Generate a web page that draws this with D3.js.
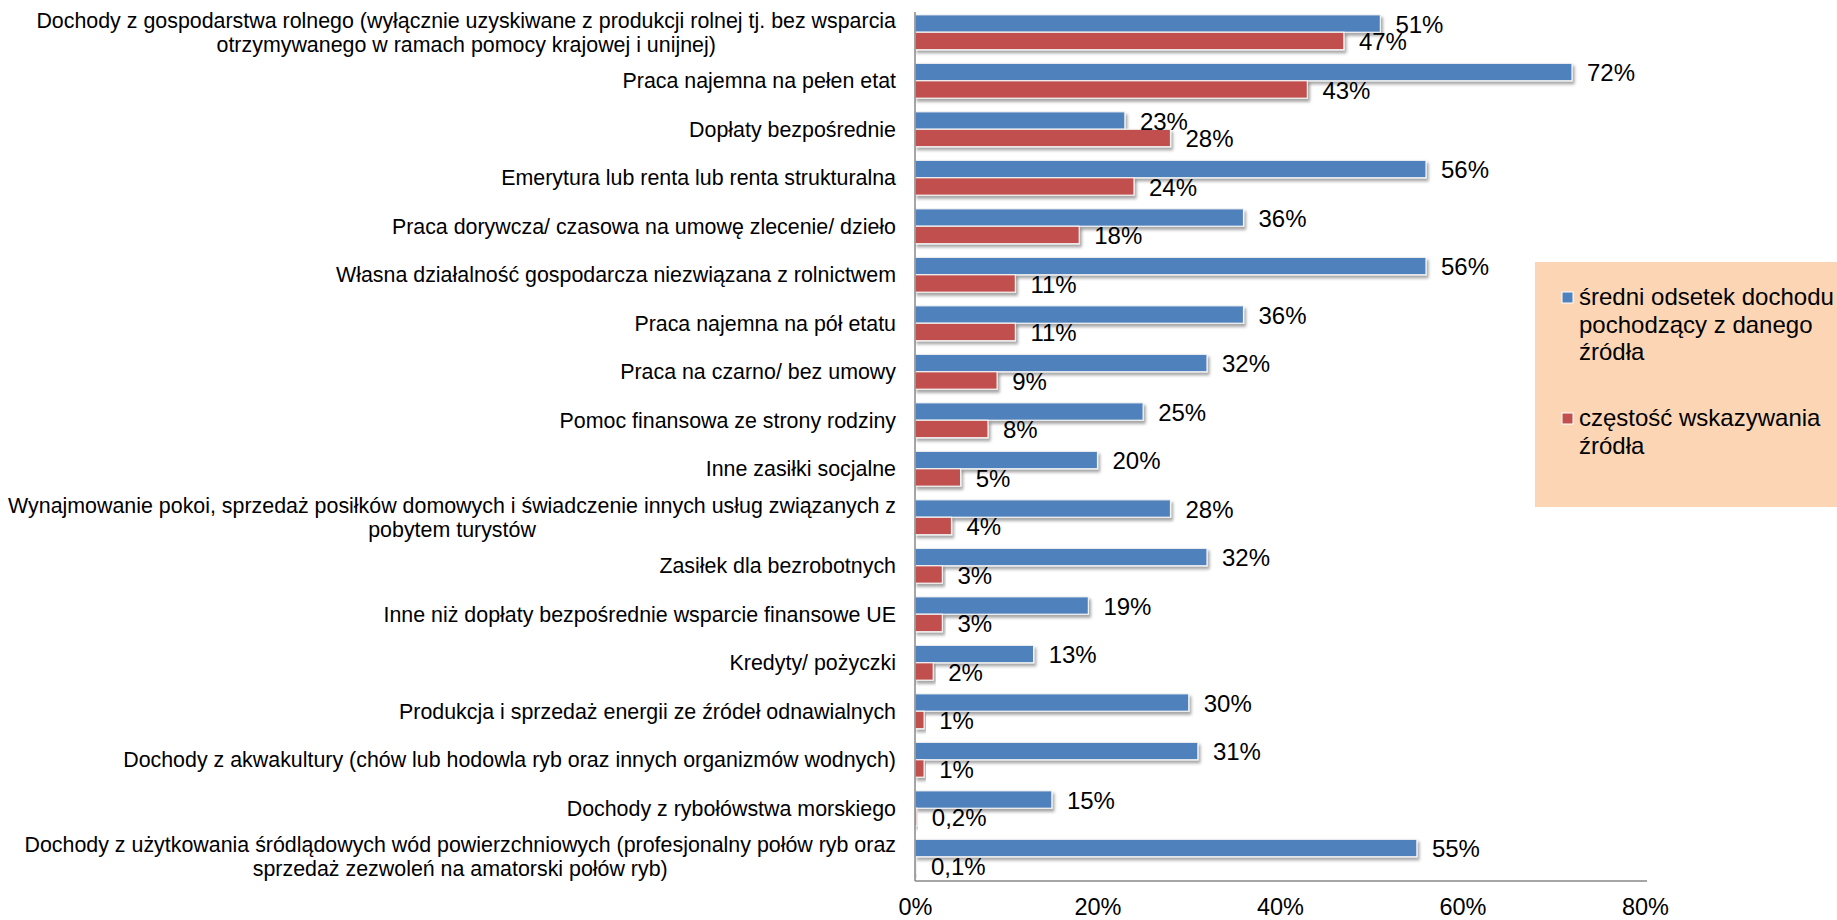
<!DOCTYPE html>
<html>
<head>
<meta charset="utf-8">
<script src="https://cdn.jsdelivr.net/npm/d3@7"></script>
<style>
  body { margin: 0; background: #fff; }
  svg { display: block; font-family: "Liberation Sans", Arial, sans-serif; }
</style>
</head>
<body>
<script>
// categories (top to bottom), "\n" marks a wrapped line
const categories = [
  "Dochody z gospodarstwa rolnego (wyłącznie uzyskiwane z produkcji rolnej tj. bez wsparcia\notrzymywanego w ramach pomocy krajowej i unijnej)",
  "Praca najemna na pełen etat",
  "Dopłaty bezpośrednie",
  "Emerytura lub renta lub renta strukturalna",
  "Praca dorywcza/ czasowa na umowę zlecenie/ dzieło",
  "Własna działalność gospodarcza niezwiązana z rolnictwem",
  "Praca najemna na pół etatu",
  "Praca na czarno/ bez umowy",
  "Pomoc finansowa ze strony rodziny",
  "Inne zasiłki socjalne",
  "Wynajmowanie pokoi, sprzedaż posiłków domowych i świadczenie innych usług związanych z\npobytem turystów",
  "Zasiłek dla bezrobotnych",
  "Inne niż dopłaty bezpośrednie wsparcie finansowe UE",
  "Kredyty/ pożyczki",
  "Produkcja i sprzedaż energii ze źródeł odnawialnych",
  "Dochody z akwakultury (chów lub hodowla ryb oraz innych organizmów wodnych)",
  "Dochody z rybołówstwa morskiego",
  "Dochody z użytkowania śródlądowych wód powierzchniowych (profesjonalny połów ryb oraz\nsprzedaż zezwoleń na amatorski połów ryb)"
];

// średni odsetek dochodu pochodzący z danego źródła (%)
const shareOfIncome = [51, 72, 23, 56, 36, 56, 36, 32, 25, 20, 28, 32, 19, 13, 30, 31, 15, 55];
// częstość wskazywania źródła (%)
const frequency = [47, 43, 28, 24, 18, 11, 11, 9, 8, 5, 4, 3, 3, 2, 1, 1, 0.2, 0.1];

const seriesNames = ["średni odsetek dochodu\npochodzący z danego\nźródła", "częstość wskazywania\nźródła"];
const seriesKeys = ["share", "freq"];
const xTicks = [0, 20, 40, 60, 80];

var data = categories.map(function(c, i) {
    return { cat: c, share: shareOfIncome[i], freq: frequency[i] };
});

var W = 1837, H = 920;

var svg = d3.select("body").append("svg")
    .attr("width", W)
    .attr("height", H);

// soft shadow like the office chart
var defs = svg.append("defs");
var f = defs.append("filter").attr("id", "shadow")
    .attr("x", "-5%").attr("y", "-30%").attr("width", "115%").attr("height", "190%");
f.append("feDropShadow")
    .attr("dx", 2).attr("dy", 3)
    .attr("stdDeviation", 1.8)
    .attr("flood-color", "#000")
    .attr("flood-opacity", 0.35);

var color = d3.scaleOrdinal()
    .domain(seriesKeys)
    .range(["#4F81BD", "#C0504D"]);

var x = d3.scaleLinear()
    .domain([0, 80])
    .range([915, 1645]);

var y0 = d3.scaleBand()
    .domain(d3.range(categories.length))
    .range([8, 881])
    .paddingInner(0.28)
    .paddingOuter(0.14);

var y1 = d3.scaleBand()
    .domain(seriesKeys)
    .range([0, y0.bandwidth()]);

// legend box
var legend = svg.append("g").attr("transform", "translate(1535,262)");
legend.append("rect")
    .attr("width", 302)
    .attr("height", 245)
    .attr("fill", "#FCD5B5");

var legItems = legend.selectAll(".leg")
    .data(seriesKeys)
    .enter().append("g")
    .attr("class", "leg")
    .attr("transform", function(d, i) { return "translate(27," + (i === 0 ? 30 : 151) + ")"; });

legItems.append("rect")
    .attr("width", 11)
    .attr("height", 11)
    .attr("fill", color)
    .attr("stroke", "#fff")
    .attr("stroke-width", 1);

legItems.append("text")
    .attr("x", 17)
    .attr("y", 13)
    .style("font-size", "24px")
    .attr("fill", "#000")
    .selectAll("tspan")
    .data(function(d, i) { return seriesNames[i].split("\n"); })
    .enter().append("tspan")
    .attr("x", 17)
    .attr("dy", function(d, i) { return i === 0 ? 0 : 27.5; })
    .text(function(d) { return d; });

// bars
var groups = svg.selectAll(".cat")
    .data(data)
    .enter().append("g")
    .attr("class", "cat")
    .attr("transform", function(d, i) { return "translate(0," + y0(i) + ")"; });

groups.selectAll("rect")
    .data(function(d) { return seriesKeys.map(function(k) { return { key: k, value: d[k] }; }); })
    .enter().append("rect")
    .attr("x", x(0))
    .attr("y", function(d) { return y1(d.key); })
    .attr("width", function(d) { return x(d.value) - x(0); })
    .attr("height", y1.bandwidth())
    .attr("fill", function(d) { return color(d.key); })
    .attr("stroke", "#f4f4f4")
    .attr("stroke-width", 1.2)
    .attr("filter", "url(#shadow)");

groups.selectAll(".val")
    .data(function(d) { return seriesKeys.map(function(k) { return { key: k, value: d[k] }; }); })
    .enter().append("text")
    .attr("class", "val")
    .attr("x", function(d) { return x(d.value) + 15; })
    .attr("y", function(d) { return y1(d.key) + y1.bandwidth() / 2; })
    .attr("dy", "0.38em")
    .style("font-size", "24px")
    .attr("fill", "#000")
    .text(function(d) {
        return d.value < 1 ? String(d.value).replace(".", ",") + "%" : d.value + "%";
    });

// y axis line
svg.append("g")
    .attr("transform", "translate(" + x(0) + ",0)")
    .call(d3.axisLeft(y0).tickSize(0).tickFormat(""))
    .select(".domain")
    .attr("d", "M0,12V881")
    .attr("stroke", "#898989")
    .attr("stroke-width", 1.5);

// category labels, wrapped lines centred inside a right aligned block
var labelEnd = 896;
svg.selectAll(".catlab")
    .data(data)
    .enter().append("text")
    .attr("class", "catlab")
    .style("font-size", "21.4px")
    .attr("fill", "#000")
    .each(function(d, i) {
        var lines = d.cat.split("\n");
        var cy = y0(i) + y0.bandwidth() / 2;
        var t = d3.select(this);
        var spans = t.selectAll("tspan")
            .data(lines)
            .enter().append("tspan")
            .attr("y", function(l, j) { return cy + (j - (lines.length - 1) / 2) * 24; })
            .attr("dy", "0.36em")
            .text(function(l) { return l; });
        if (lines.length === 1) {
            spans.attr("x", labelEnd).attr("text-anchor", "end");
        } else {
            var maxW = d3.max(spans.nodes(), function(n) { return n.getComputedTextLength(); });
            spans.attr("x", labelEnd - maxW / 2).attr("text-anchor", "middle");
        }
    });

// x axis
var xAxis = svg.append("g")
    .attr("transform", "translate(0,881)")
    .call(d3.axisBottom(x)
        .tickValues(xTicks)
        .tickSize(0)
        .tickSizeOuter(0)
        .tickPadding(17)
        .tickFormat(function(d) { return d + "%"; }));

xAxis.select(".domain")
    .attr("stroke", "#898989")
    .attr("stroke-width", 1.5)
    .attr("d", "M" + x(0) + ",0H1647");

xAxis.selectAll("text")
    .style("font-size", "23.5px")
    .style("font-family", "'Liberation Sans', Arial, sans-serif")
    .attr("fill", "#000");
</script>
</body>
</html>
